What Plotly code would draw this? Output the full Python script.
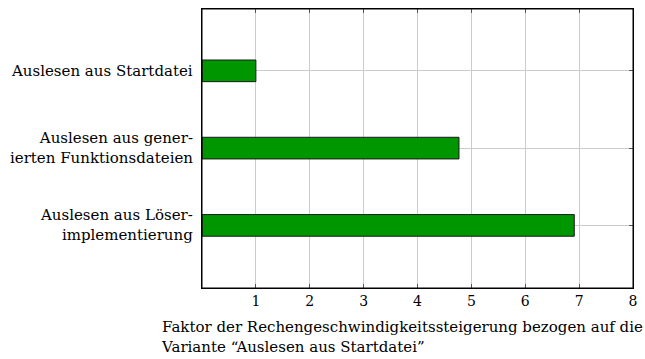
import plotly.graph_objects as go

categories = ["Auslesen aus Startdatei",
              "Auslesen aus gener-<br>ierten Funktionsdateien",
              "Auslesen aus Löser-<br>implementierung"]
values = [1.0, 4.77, 6.91]
x_ticks = [1, 2, 3, 4, 5, 6, 7, 8]
x_title = "Faktor der Rechengeschwindigkeitssteigerung bezogen auf die<br>Variante “Auslesen aus Startdatei”"

FONT = "DejaVu Serif"
ypos = list(range(len(categories)))

fig = go.Figure()
fig.add_trace(go.Bar(
    x=values, y=ypos, orientation="h", width=0.28,
    marker=dict(color="#009600", line=dict(color="#1a1a1a", width=1)),
))

for yp, lab in zip(ypos, categories):
    fig.add_annotation(x=0, y=yp, xref="paper", yref="y", text=lab,
                       xanchor="right", yanchor="middle", align="right",
                       xshift=-7, showarrow=False,
                       font=dict(family=FONT, size=15, color="black"))

fig.add_annotation(x=-0.1, y=0, xref="paper", yref="paper", text=x_title,
                   xanchor="left", yanchor="top", align="left", yshift=-28,
                   showarrow=False, font=dict(family=FONT, size=15, color="black"))

# frame
fig.add_shape(type="rect", xref="paper", yref="paper", x0=0, x1=1, y0=0, y1=1,
              line=dict(color="black", width=1), layer="above")

fig.update_layout(
    width=645, height=359,
    margin=dict(l=202, r=12, t=9, b=71),
    plot_bgcolor="white", paper_bgcolor="white",
    showlegend=False,
    font=dict(family=FONT, size=14, color="black"),
    xaxis=dict(range=[0, 8], tickvals=x_ticks, ticks="inside", ticklen=4,
               tickcolor="#555", mirror="ticks", showline=True, linecolor="black",
               linewidth=1, showgrid=True, gridcolor="#cccccc", gridwidth=1,
               zeroline=False, fixedrange=True, tickfont=dict(size=14)),
    yaxis=dict(range=[2.81, -0.8], tickvals=ypos, showticklabels=False,
               ticks="inside", ticklen=4, tickcolor="#555", mirror="ticks",
               showline=True, linecolor="black", linewidth=1,
               showgrid=True, gridcolor="#cccccc", gridwidth=1, zeroline=False,
               fixedrange=True),
)

fig.write_html("out.html", config={"displayModeBar": False},
               post_script="document.body.style.margin='0';document.body.style.overflow='hidden';")
